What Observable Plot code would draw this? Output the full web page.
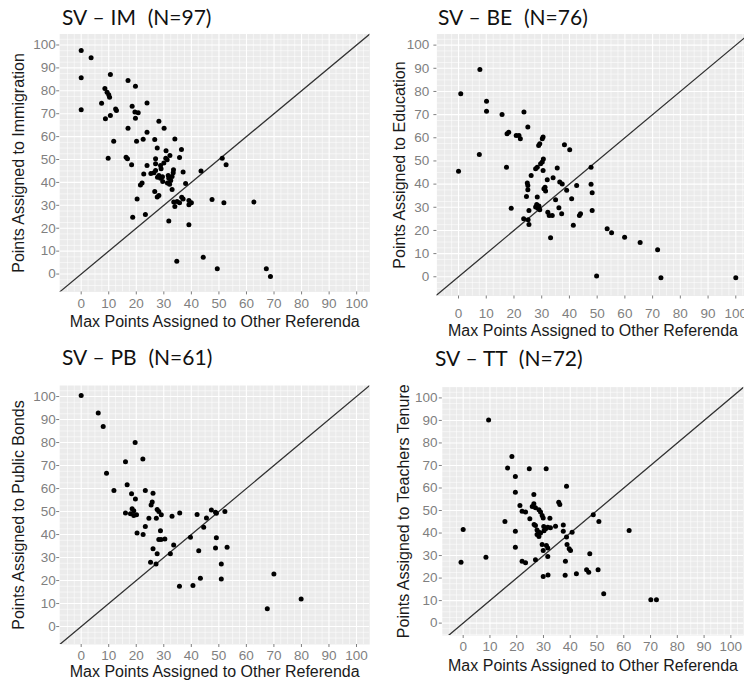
<!DOCTYPE html>
<html><head><meta charset="utf-8">
<script src="https://cdn.jsdelivr.net/npm/d3@7"></script>
<script src="https://cdn.jsdelivr.net/npm/@observablehq/plot@0.6"></script>
<style>
html,body{margin:0;padding:0;background:#fff;}
#wrap{position:relative;width:744px;height:683px;overflow:hidden;background:#fff;}
.title{position:absolute;font-family:Lato,"Open Sans",sans-serif;font-size:21px;line-height:21px;white-space:pre;color:#111;word-spacing:0.5px;}
</style></head><body><div id="wrap"></div>
<script>
// ---- tick labels / text ----
const TICKS = [0,10,20,30,40,50,60,70,80,90,100];
const XLAB = "Max Points Assigned to Other Referenda";
const TITLES = ["SV \u2013 IM  (N=97)", "SV \u2013 BE  (N=76)", "SV \u2013 PB  (N=61)", "SV \u2013 TT  (N=72)"];
const YLABS = ["Points Assigned to Immigration", "Points Assigned to Education", "Points Assigned to Public Bonds", "Points Assigned to Teachers Tenure"];

// ---- SV – IM (N=97) ----
const imX = [10.3,12.5,12.8,18.5,23.9,19.5,20.7,19.7,28.2,30.1,17,23.9,11.8,20.1,22.5,26.7,34,27.6,30.8,36.4,9.8,16.3,16.8,18.3,23.9,27,27,28.8,30.7,31.2,32.2,35.7,22.7,25.3,26.4,28.2,27.7,28.8,29.6,31.6,31.8,33.4,33,37,37.9,22.1,21.5,43.5,51.2,31.3,32.1,26.7,28.2,27.6,33,20.3,33.6,34.8,35.7,34,37,39.1,40,39.1,47.5,51.8,18.7,23.3,31.8,39.1,0,3.6,0,10.6,17,19.7,8.6,9.4,10,7.4,0,10.6,8.8,62.7,34.7,44.3,49.4,67.2,68.7,52.6,29,30,32.5,29.5,33.5,27,36.5];
const imY = [77.2,72.1,71.4,73.3,74.7,70.7,70.4,68,66.7,63.7,63.7,61.9,58,58,58.9,58.7,59,55,53.8,54.4,50.6,51,50.3,47.7,47.4,50.3,48.1,47.4,50.6,49.9,51.7,50.9,43.7,43.9,44.2,43,42.3,41.8,40.4,43,41.8,44.2,42.6,44.5,39.5,39.8,38.9,45,50.6,39.8,39.2,36,34.3,33.6,36.9,32.8,31.4,31.7,31.1,29.5,32.8,32.1,31.1,30.2,32.5,31.1,24.8,26,23.2,21.5,97.6,94.4,85.7,87.1,84.5,82,81,79.4,78.3,74.6,71.7,69.2,67.8,31.4,5.6,7.3,2.3,2.3,-1.1,47.7,46,48.5,40.8,42.5,45.5,45.2,33.5];

// ---- SV – BE (N=76) ----
const beX = [7.7,0.8,10.1,10.1,15.7,23.6,25,17.5,18.1,20.8,21.8,22.3,28.9,29.3,30.2,30.5,38.2,40.1,7.5,0,17.3,27.8,28.4,29.6,30.2,30.5,26.2,32,34.1,35.6,47.8,25,25,30.8,31.4,36.5,37.4,39,42.6,47.8,48.2,24.5,28.4,35,40.8,19,25.4,27.8,28.6,29.3,32.2,32.7,33.8,36.2,37.2,43.6,44,48.2,23.5,25.1,25.4,41.4,33.2,53.6,55.2,59.9,65.5,71.8,49.8,73,100,30.6,31.2,28.2,29,24.8];
const beY = [89.5,79,75.8,71.5,70,71.1,64.6,61.7,62.4,61,61,59.6,56.7,57.4,59.6,60.3,57,54.8,52.8,45.5,47.3,46.6,47.3,48.8,49.5,45.9,43.7,41.9,42.7,47,47.3,39.4,37.6,38,37,40.9,40.1,37.3,39.4,39.9,36.3,34.7,34.4,33.2,33.7,29.6,28.6,30.1,29.6,28.9,27.9,26.5,26.5,29.8,27.2,26.5,27.2,28.6,25,24.6,22.6,22.2,16.8,20.7,19,17.1,14.8,11.7,0.3,-0.4,-0.4,50.8,38.6,31.2,30.5,40.5];

// ---- SV – PB (N=61) ----
const pbX = [0,6.2,8,19.6,16.1,22.4,9.2,11.9,16.7,18.3,19.7,23.3,26.1,25.8,25.4,18.5,19.1,16.1,17.9,19.1,20.1,24.6,27.3,27.6,28.2,29.1,33,35.8,23.3,20.3,22.5,28.8,28.2,29,30.4,33.6,26.1,27.6,32.4,25.2,27.2,39.7,42.1,45.5,44.5,47.3,48.8,49.1,52.2,42.7,49.1,48.8,53,50.9,43.3,50.9,40.6,35.7,70,67.6,79.9];
const pbY = [100.4,92.8,87,80,71.7,72.9,66.7,59.1,61.6,57.7,55.5,59.1,58,54.1,52.9,51.2,50.4,49.4,49,48.3,48.6,47.1,47.1,50.9,50,48.6,48,49.4,43.5,40.7,40,41.7,37.8,37.8,38.1,35.5,33.8,31.6,31.6,28,27.2,38.8,48.7,47.2,43.2,50.7,49.7,49.3,50,33,38.6,34.1,34.5,27.2,21,20.7,17.8,17.5,22.9,7.7,12];

// ---- SV – TT (N=72) ----
const ttX = [9.5,18.2,16.6,24.7,31,19.5,38.6,19.5,26.4,35.7,36.1,21.2,22,23.3,25.8,26.4,27,28.3,28.9,15.6,24.9,29.5,29.9,32.4,34.5,37.4,48.6,50.7,62,0,19.5,19.5,27,27.6,28.3,28.9,27.6,28.3,30.1,30.8,31.6,32.6,37.4,40.7,38.6,29.5,31.1,31.6,38.8,39.6,40.1,47.3,22,23.3,27,31.6,38.2,46.1,46.9,50.4,38.1,42.3,29.9,31.7,52.5,-0.8,8.5,70.1,72.2,29.9,26.5,30.2];
const ttY = [90.2,74,68.9,68.5,68.5,65.1,60.8,58.1,57.1,53.7,52.7,52.2,49.7,49.3,51.8,53,51.2,50.3,49.3,45.1,46.3,47.8,46.7,46.6,43,43.6,48.1,45.1,41.1,41.6,40.8,33.7,43.3,41.4,40.4,40,39.3,38.5,42.9,41.9,42.6,42.3,40.8,40.4,38.2,34.9,34.5,33.3,34.9,33,32.2,30.8,27.5,26.8,28.1,29.6,27.5,23.7,22.6,23.7,21.2,21.9,20.7,21.4,13,27,29.3,10.4,10.4,32.2,43.8,41];

// ---- layout (per panel) ----
const LAYOUT = [
  {left:0,   top:0,   w:372, h:340, ml:59.2, mr:2.6, mt:33.5, mb:48.6, xd:[-7.8,104.8], yd:[-7.8,104.8], xpad:4,  ypad:1,   xt:30.3, yt:-40.9, tl:62,  tt:6.4},
  {left:372, top:0,   w:380, h:340, ml:64.4, mr:3.4, mt:33.5, mb:44.5, xd:[-7.8,104.8], yd:[-8.3,104.8], xpad:9.6,ypad:4.7, xt:34.5, yt:-36.9, tl:438, tt:6.4},
  {left:0,   top:340, w:372, h:343, ml:59.2, mr:2.8, mt:45,   mb:39,   xd:[-7.8,104.8], yd:[-7.8,104.8], xpad:3,  ypad:1,   xt:27,   yt:-40.9, tl:62,  tt:346.4},
  {left:372, top:340, w:372, h:343, ml:69.8, mr:0.8, mt:46.6, mb:48,   xd:[-7.8,104.8], yd:[-5.5,104.8], xpad:3,  ypad:1.8, xt:30,   yt:-38.1, tl:435, tt:347}
];

const MINOR = d3.range(-5, 105, 2.5).filter(v => v % 10 !== 0);
const wrap = document.getElementById("wrap");

function makePanel(c, xs, ys, ylab, title) {
  const pts = xs.map((x, i) => ({x, y: ys[i]}));
  const lo = -30, hi = 130;
  const svg = Plot.plot({
    width: c.w, height: c.h,
    marginLeft: c.ml, marginRight: c.mr, marginTop: c.mt, marginBottom: c.mb,
    style: {background: "transparent", fontFamily: "'Liberation Sans', Arial, sans-serif", overflow: "visible"},
    x: {domain: c.xd, label: null},
    y: {domain: c.yd, label: null},
    marks: [
      Plot.frame({fill: "#EBEBEB", stroke: "none"}),
      Plot.ruleX(MINOR, {stroke: "#fff", strokeWidth: 0.6, strokeOpacity: 0.9}),
      Plot.ruleY(MINOR, {stroke: "#fff", strokeWidth: 0.6, strokeOpacity: 0.9}),
      Plot.ruleX(TICKS, {stroke: "#fff", strokeWidth: 1.1}),
      Plot.ruleY(TICKS, {stroke: "#fff", strokeWidth: 1.1}),
      Plot.axisX(TICKS, {anchor: "bottom", tickSize: 3, tickPadding: c.xpad, fontSize: 13.5, color: "#7f7f7f", tickFormat: d => String(d), label: null}),
      Plot.axisY(TICKS, {anchor: "left", tickSize: 3, tickPadding: c.ypad, fontSize: 13.5, color: "#7f7f7f", tickFormat: d => String(d), label: null}),
      Plot.line([[lo, lo], [hi, hi]], {stroke: "#333", strokeWidth: 1.3, clip: true}),
      Plot.dot(pts, {x: "x", y: "y", r: 2.5, fill: "#000"}),
      Plot.text([XLAB], {frameAnchor: "bottom", textAnchor: "middle", lineAnchor: "middle", dy: c.xt, fontSize: 16, fill: "#1a1a1a"}),
      Plot.text([ylab], {frameAnchor: "left", textAnchor: "middle", lineAnchor: "middle", rotate: -90, dx: c.yt, fontSize: 16, fill: "#1a1a1a"})
    ]
  });
  svg.style.position = "absolute";
  svg.style.left = c.left + "px";
  svg.style.top = c.top + "px";
  wrap.appendChild(svg);
  const t = document.createElement("div");
  t.className = "title";
  t.textContent = title;
  t.style.left = c.tl + "px";
  t.style.top = c.tt + "px";
  wrap.appendChild(t);
}

const SERIES = [[imX, imY], [beX, beY], [pbX, pbY], [ttX, ttY]];
SERIES.forEach((s, i) => makePanel(LAYOUT[i], s[0], s[1], YLABS[i], TITLES[i]));
</script></body></html>
